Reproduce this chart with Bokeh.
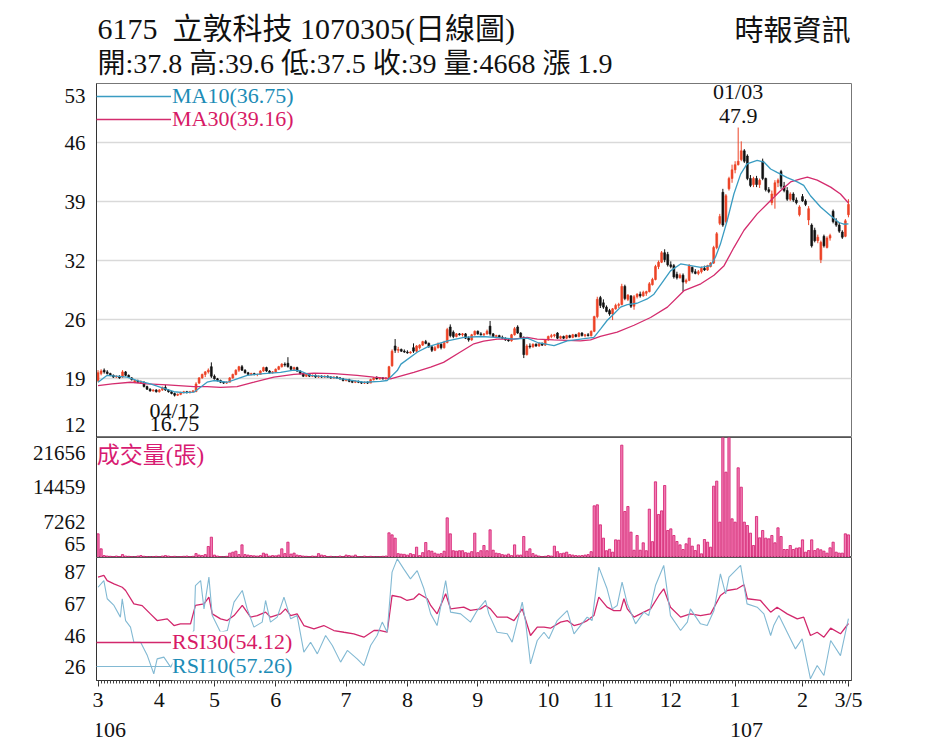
from bokeh.plotting import figure
from bokeh.models import (ColumnDataSource, Range1d, FixedTicker, Label, Legend,
                          LegendItem, PrintfTickFormatter, BoxAnnotation)
from bokeh.layouts import column
from bokeh.embed import file_html
from bokeh.resources import INLINE
from bokeh.core.properties import value

# ---------------- data ----------------
opens = [
18.6,19.4,19.8,19.6,19.4,19.2,19.0,19.1,19.0,19.6,
19.2,18.9,18.4,18.5,18.3,18.4,17.9,17.6,17.4,17.5,
17.3,17.5,17.8,17.5,17.3,17.1,16.9,17.0,17.2,17.3,
17.2,17.3,17.3,18.3,18.9,19.3,19.6,20.2,19.1,18.8,
18.6,18.4,18.3,18.4,18.9,19.3,19.8,20.2,19.8,19.5,
19.3,19.4,19.3,19.3,19.7,20.1,19.7,19.5,19.6,19.9,
20.2,20.5,20.6,20.2,19.9,20.1,19.7,19.4,19.1,19.3,
19.1,19.2,19.0,19.1,19.0,19.1,19.0,18.9,19.0,18.9,
18.8,18.6,18.7,18.5,18.4,18.5,18.4,18.3,18.4,18.3,
18.7,18.9,18.8,18.9,18.8,18.9,20.3,22.6,22.1,22.2,
22.0,21.9,21.8,22.4,22.0,22.4,22.7,23.1,22.9,22.5,
22.1,22.4,22.8,22.4,23.0,24.8,24.2,23.7,24.0,23.9,
24.0,23.5,23.3,23.9,24.3,24.0,23.9,24.0,24.9,24.0,
23.7,23.8,23.6,23.5,23.3,23.2,23.9,24.8,24.1,23.6,
21.6,22.6,22.5,22.8,22.6,22.9,22.7,23.3,23.7,23.8,
24.1,23.5,23.7,23.5,23.8,23.6,23.9,23.7,24.1,23.8,
23.9,23.8,24.3,26.0,28.2,27.6,27.1,26.7,26.3,26.9,
27.3,27.4,29.5,28.0,28.4,27.2,28.3,28.6,28.4,28.7,
28.9,29.7,30.3,31.8,32.3,33.4,33.2,32.0,31.9,30.9,
30.5,30.8,30.0,30.2,31.7,31.2,31.0,31.2,31.6,31.4,
31.8,32.2,34.0,36.8,40.4,37.0,40.8,42.0,43.0,43.6,
44.2,45.2,44.6,42.0,41.3,42.0,41.3,44.0,42.0,40.7,
39.2,40.0,41.5,42.8,41.1,40.6,39.6,40.2,39.5,37.8,
39.9,39.4,37.2,36.6,36.0,34.8,32.6,35.3,34.0,35.1,
38.2,37.0,36.6,35.8,35.3,37.8]

highs = [
19.8,19.9,20.0,19.8,19.5,19.3,19.2,19.2,19.8,19.7,
19.3,19.0,18.7,18.7,18.6,18.5,18.0,17.7,17.6,17.6,
17.6,17.9,18.1,17.6,17.4,17.2,17.1,17.3,17.4,17.4,
17.4,17.5,18.4,19.0,19.4,19.7,20.0,20.7,19.3,18.9,
18.7,18.5,18.5,19.0,19.4,19.9,20.3,20.4,19.9,19.6,
19.5,19.5,19.4,19.8,20.2,20.2,19.8,19.7,20.0,20.3,
20.6,20.7,21.3,20.3,20.2,20.2,19.8,19.5,19.4,19.4,
19.3,19.3,19.2,19.2,19.2,19.2,19.1,19.1,19.1,19.0,
18.9,18.8,18.8,18.6,18.6,18.6,18.5,18.5,18.5,18.8,
19.0,19.1,19.0,19.0,19.0,20.3,22.2,23.4,22.5,22.3,
22.2,22.1,22.0,22.9,22.7,22.8,23.2,23.3,23.0,22.6,
22.6,23.0,22.9,23.2,24.7,25.1,24.4,24.1,24.1,24.1,
24.1,23.7,24.0,24.4,24.4,24.2,24.1,24.5,25.5,24.1,
23.9,23.9,23.8,23.6,23.5,24.0,24.8,25.0,24.2,23.7,
22.8,22.9,22.9,22.9,23.0,23.0,23.4,23.8,24.0,24.0,
24.2,23.8,23.8,23.9,23.9,24.0,24.0,24.2,24.2,24.0,
24.1,24.4,26.1,28.3,28.4,28.0,27.3,26.9,27.0,27.5,
27.6,29.8,29.7,28.6,28.5,28.5,28.7,28.9,29.0,29.0,
30.0,30.5,32.0,32.5,33.6,33.8,33.5,32.4,32.1,31.2,
31.0,31.0,30.4,32.1,31.8,31.5,31.4,31.8,31.9,32.0,
32.3,34.2,35.8,37.9,40.8,40.2,42.2,43.6,44.0,47.9,
46.3,45.4,44.8,42.4,42.2,42.3,42.0,44.3,42.1,41.0,
40.6,41.8,42.0,43.0,41.6,41.0,40.4,40.4,39.8,38.9,
40.2,39.6,38.8,36.8,36.3,35.5,34.8,35.5,35.3,35.6,
38.4,37.4,36.9,36.0,37.3,39.6]

lows = [
18.4,19.2,19.4,19.3,19.1,18.9,18.9,18.8,18.9,19.1,
18.9,18.6,18.3,18.3,18.2,17.8,17.5,17.3,17.3,17.2,
17.2,17.4,17.4,17.2,17.0,16.75,16.8,16.9,17.1,17.1,
17.1,17.2,17.3,18.2,18.8,19.0,19.4,18.9,18.7,18.5,
18.3,18.2,18.2,18.4,18.8,19.2,19.6,19.7,19.4,19.2,
19.2,19.2,19.1,19.3,19.6,19.6,19.4,19.4,19.5,19.8,
20.1,20.2,20.1,19.8,19.7,19.6,19.3,19.0,19.0,19.0,
19.0,18.9,18.9,18.9,18.9,18.9,18.8,18.8,18.8,18.7,
18.5,18.5,18.4,18.3,18.3,18.3,18.2,18.2,18.2,18.3,
18.6,18.7,18.7,18.7,18.7,18.9,20.2,21.8,21.8,21.9,
21.8,21.7,21.7,21.8,21.9,22.2,22.6,22.8,22.4,21.9,
22.0,22.3,22.2,22.3,22.9,23.6,23.5,23.6,23.8,23.7,
23.4,23.1,23.2,23.8,23.9,23.8,23.7,23.9,23.8,23.6,
23.5,23.5,23.4,23.2,23.1,23.1,23.8,24.0,23.5,21.2,
21.5,22.3,22.4,22.5,22.5,22.6,22.6,23.2,23.5,23.6,
23.4,23.4,23.4,23.4,23.5,23.5,23.6,23.6,23.7,23.6,
23.7,23.7,24.2,25.8,27.0,26.9,26.5,26.1,25.6,26.8,
27.0,27.3,27.9,27.8,27.0,26.8,28.1,28.2,28.3,28.4,
28.8,29.6,30.2,31.5,32.2,32.3,31.8,31.6,30.4,30.3,
30.4,28.9,29.8,30.1,31.0,30.9,30.8,31.0,31.3,31.3,
31.7,32.1,33.8,36.6,36.4,36.8,40.6,41.5,42.6,43.5,
44.0,43.8,41.8,41.0,41.0,41.0,40.9,41.8,40.5,40.3,
38.9,38.5,41.0,40.8,40.4,39.4,39.4,39.3,39.0,37.6,
39.3,38.8,36.6,34.0,34.6,34.5,32.2,34.0,33.9,34.8,
36.8,36.4,35.7,35.0,35.2,37.5]

closes = [
19.5,19.7,19.6,19.4,19.2,19.0,19.1,18.9,19.6,19.2,
19.0,18.7,18.6,18.4,18.5,17.9,17.6,17.4,17.5,17.3,
17.5,17.8,17.5,17.3,17.1,16.9,17.0,17.2,17.3,17.2,
17.3,17.4,18.2,18.9,19.3,19.6,19.8,19.1,18.8,18.6,
18.4,18.3,18.4,18.9,19.3,19.8,20.2,19.8,19.5,19.3,
19.4,19.3,19.3,19.7,20.1,19.7,19.5,19.6,19.9,20.2,
20.5,20.4,20.2,19.9,20.1,19.7,19.4,19.1,19.3,19.1,
19.2,19.0,19.1,19.0,19.1,19.0,18.9,19.0,18.9,18.8,
18.6,18.7,18.5,18.4,18.5,18.4,18.3,18.4,18.3,18.7,
18.9,18.8,18.9,18.8,18.9,20.2,22.0,22.1,22.2,22.0,
21.9,21.8,21.9,22.0,22.6,22.7,23.1,22.9,22.5,22.1,
22.4,22.8,22.4,23.0,24.5,23.8,23.7,24.0,23.9,24.0,
23.5,23.3,23.9,24.3,24.0,23.9,24.0,24.3,24.0,23.7,
23.8,23.6,23.5,23.3,23.2,23.9,24.6,24.1,23.6,21.6,
22.6,22.5,22.8,22.6,22.9,22.7,23.3,23.7,23.8,23.9,
23.5,23.7,23.5,23.8,23.6,23.9,23.7,24.1,23.8,23.9,
23.8,24.3,26.0,28.0,27.3,27.1,26.6,26.3,26.9,27.3,
27.4,29.5,28.1,28.5,27.2,28.3,28.6,28.4,28.8,28.9,
29.8,30.3,31.8,32.3,33.4,32.6,32.0,31.8,30.6,30.5,
30.8,30.0,30.2,31.9,31.2,31.0,31.2,31.6,31.4,31.9,
32.2,34.0,35.6,37.6,36.6,40.0,42.0,43.0,43.6,44.0,
45.2,44.0,42.0,41.2,42.0,41.3,41.8,42.0,40.7,40.5,
40.2,41.5,41.8,41.1,40.6,39.6,40.2,39.5,39.2,38.7,
39.4,39.0,38.5,34.2,34.8,35.2,34.6,34.2,35.1,35.4,
37.0,36.6,35.9,35.2,37.1,39.0]

volumes = [
4880,1790,400,300,250,200,300,200,600,300,
250,200,150,300,400,250,200,150,200,250,
150,300,400,300,200,250,150,200,250,300,
200,250,800,500,400,600,2270,4190,500,300,
200,150,250,900,1100,1300,600,2610,600,500,
400,350,300,400,900,700,300,400,350,500,
1790,800,3160,700,900,500,400,300,250,200,
300,250,800,500,400,200,250,150,200,300,
200,500,400,300,500,200,150,300,200,250,
200,150,200,250,300,5090,4670,3990,800,700,
650,500,800,600,2130,400,1000,3090,1400,1300,
900,700,800,1300,8180,4880,1400,1300,1400,1400,
1000,900,1200,5020,1000,1400,2475,1400,5710,1500,
900,800,600,500,700,400,2610,500,500,4330,
1300,1790,800,500,300,200,250,400,300,2340,
1200,800,900,1100,600,500,400,350,400,500,
600,1200,10660,10870,6740,3990,1400,1700,1100,3640,
3570,23170,9490,10520,5230,1500,4540,1500,3030,1400,
9970,3270,15610,8870,9620,14850,5570,5910,4540,3300,
2610,1650,2820,3990,2340,1440,2610,760,3710,3160,
2130,14710,15750,7290,26000,17600,26000,7980,7290,18500,
14500,7290,6600,5020,2475,8460,4060,5570,3990,3850,
4540,3030,6120,4330,1650,1650,2475,1650,1925,2000,
3640,1100,1440,3640,1440,1790,1580,1310,900,2000,
3160,1100,900,900,4880,4668]

ma10_x = [0,3,9.5,12.8,17.1,21.5,24.8,28,31.3,35.6,37.8,42.2,45.4,48.7,54.1,59.6,63.9,66.1,
          69.4,75.9,81.3,86.8,92.2,94.4,97.7,98.9,104.3,107.6,114.1,119.5,125,129.9,135.8,
          140.2,143.5,148.9,153.2,157.6,161.9,164.1,166.2,168.4,170.6,172.8,176,179.3,181.5,
          184.7,186.9,190.2,193.5,196.8,200,201.6,203.2,205.4,207.6,209.8,211.9,215.2,217.4,
          219.6,221.7,225,228.3,230.4,232.6,235.9,239.1,241.9,243.5,245]
ma10_y = [18.4,19.2,19.0,18.6,18.2,17.7,17.3,17.2,17.25,18.4,18.6,18.4,18.8,19.2,19.4,19.55,
          19.8,19.7,19.2,19.0,18.7,18.4,18.5,18.6,19.75,20.5,21.9,22.5,23.2,23.6,23.7,23.6,
          23.4,23.5,23.0,22.65,23.2,23.4,23.6,24.59,25.55,26.3,27.1,27.4,27.55,28.05,28.6,
          30.2,31.3,32.1,31.9,31.7,31.9,32.9,34.4,37.1,40.2,42.5,43.7,44.1,43.9,43.1,42.7,
          42.1,41.6,41.2,40.0,38.7,37.7,36.9,36.7,36.75]

ma30_x = [0,4.6,10.6,16,22.6,31.3,35.6,40,45.4,50.9,57.4,63.9,70.5,77,84.6,90,94.4,95.5,
          103.1,108.6,112.8,118.3,122.7,125.9,130.3,135.7,140.1,143.4,148.8,157.5,160.8,164,
          169.5,175,180.4,185.9,191.3,196.8,201.1,204.4,207.6,210.9,215.2,219.6,222.9,226.1,
          229.4,231.6,234.8,239.2,242.4,245]
ma30_y = [18.0,18.2,18.4,18.2,18.1,17.9,17.9,17.8,17.9,18.4,19.0,19.3,19.45,19.4,19.2,19.0,
          18.85,18.8,19.55,20.15,20.7,21.9,22.85,23.15,23.4,23.4,23.6,23.4,23.3,23.2,23.3,
          23.7,24.2,25.0,25.9,27.1,29.0,29.8,30.8,31.9,34.0,36.0,37.9,39.45,40.6,41.6,41.95,
          42.15,41.8,41.0,40.2,39.16]

rsi30_x = [0,1.9,3,5.2,7.9,9,11.7,14.4,17.1,19.3,22.6,24.8,26.9,30.2,31.8,34.6,36.2,37.3,40,
           42.2,44.4,47.1,49.8,52,54.7,56.3,59.6,61.2,62.9,65,67.2,70.5,73.7,77,80.3,83.5,86.8,
           90.1,92.2,94.4,96,98.8,100.9,103.1,104.8,107.5,108.6,110.7,113.5,115.1,119.4,121.6,
           124.9,126.5,128.1,130.3,133.6,135.8,138.5,141.2,143.4,145.6,147.7,151,153.2,155.4,
           157.5,159.7,161.9,163.5,166.2,168.4,170.6,171.7,172.8,175,178.2,180.4,183.1,184.7,
           186.9,190.2,193.4,196.7,200,203.2,205.4,208.7,210.9,212,216.3,219.6,221.7,225,228.3,
           230.4,232.6,234.8,237,239.2,242.4,245]
rsi30_y = [83.9,85.0,81.7,79.6,77.4,75.3,66.7,65.6,60.3,56.0,57.1,52.8,53.9,53.9,65.7,66.7,71.0,
           60.3,57.1,56.0,59.2,65.7,58.2,59.2,61.4,58.2,60.3,63.5,59.2,60.3,52.8,50.7,52.8,49.6,
           48.5,47.5,45.3,49.6,49.6,48.5,72.1,71.0,68.9,70.0,73.2,70.0,65.7,60.3,73.2,63.5,64.6,
           62.5,63.5,65.7,63.5,58.2,58.2,56.0,63.5,46.4,51.8,51.8,51.1,55.0,56.0,52.8,53.9,56.0,
           59.2,71.0,64.6,62.4,62.4,70.0,63.5,58.2,61.4,63.5,72.1,76.4,64.6,58.2,60.3,59.2,60.3,
           72.1,75.3,76.4,79.0,70.0,68.9,61.4,64.6,60.3,57.1,58.2,46.4,48.5,45.3,51.1,47.5,54.12]

rsi10_x = [0,1.9,3,5.2,7.3,7.9,9,10.6,11.7,13.9,16.1,18.2,19.3,21.5,23.7,25.9,28,30.2,31.3,31.8,
           33.5,34.6,36.2,37.3,40,42.2,44.4,47.1,48.7,50.9,53.6,54.7,56.3,58.5,60.7,62.9,65,67.2,
           69.4,71.6,74.3,76.5,79.2,81.4,84.6,86.8,89,91.1,92.8,94.4,96,97.7,99.8,102,104.2,106.4,
           108.6,110.7,113.5,115.1,118.4,121.6,123.8,126.5,127.6,130.3,133.6,135.2,138.5,139.6,
           141.2,143.4,145.6,147.2,149.9,153.2,155.4,157.5,159.7,161.3,163.5,166.2,167.9,169.5,
           171.1,172.8,175.5,178.2,179.8,182,184.7,186.9,190.2,192.4,193.4,196.7,198.9,201.1,
           203.2,204.9,206,209.8,211.9,215.2,217.4,219.6,220.6,222.3,225,227.7,229.9,232.6,
           234.8,237,239.2,242.4,245]
rsi10_y = [77.4,81.7,70.0,65.7,58.2,70.0,56.0,51.8,42.1,42.1,33.5,21.8,31.4,32.5,26.1,33.5,42.1,
           46.4,49.6,78.5,81.7,63.5,83.9,59.2,48.5,49.6,67.8,75.3,63.5,51.8,55.0,68.9,55.0,58.2,
           71.0,57.1,59.2,35.7,42.1,34.6,46.4,40.0,29.3,36.8,31.4,27.1,40.0,46.4,55.0,48.5,87.1,
           95.6,89.2,82.8,88.1,76.4,60.3,52.8,81.7,61.4,60.3,55.0,62.4,68.9,60.3,48.5,47.5,42.1,
           67.8,55.0,28.2,43.2,48.5,44.3,56.0,62.4,47.5,52.8,58.2,56.0,90.3,76.4,63.5,65.7,80.7,
           66.7,53.9,61.4,59.2,78.5,91.4,59.2,49.6,55.0,63.5,53.9,52.8,62.4,86.0,73.2,83.9,91.4,
           66.7,64.6,60.3,46.4,52.8,59.2,48.5,37.8,44.3,18.6,27.1,20.7,43.2,33.5,57.26]

price_ticks = [12, 12 + 41/6, 12 + 82/6, 12 + 123/6, 12 + 164/6, 12 + 205/6, 53]
price_tick_labels = ["12", "19", "26", "32", "39", "46", "53"]
vol_ticks = [65, 7262, 14459, 21656]
rsi_ticks = [26, 46.33, 66.67, 87]
month_idx = [0, 20, 38, 58, 81, 101, 124, 147, 165, 187, 208, 230, 245]
month_labels = ["3", "4", "5", "6", "7", "8", "9", "10", "11", "12", "1", "2", "3/5"]
year_idx = [0, 208]
year_labels = ["106", "107"]

hi_idx, hi_date = 209, "01/03"
lo_idx, lo_date = 25, "04/12"
ma10_last, ma30_last = 36.75, 39.16
rsi30_last, rsi10_last = 54.12, 57.26

title1 = "6175\u00a0\u00a0立敦科技 1070305(日線圖)"
title2 = "開:37.8 高:39.6 低:37.5 收:39 量:4668 漲 1.9"
source_txt = "時報資訊"

# ---------------- styling / layout ----------------
SERIF = "'Liberation Serif', 'Noto Sans CJK TC', serif"
UP, DOWN = "#ec4326", "#111111"
C_MA10, C_MA30 = "#3a9cc2", "#d42c6e"
T_BLUE, T_MAG = "#1d8cb6", "#d71a66"

N = len(closes)
days = list(range(N))
LB, RB, FW = 96, 20, 755          # left border, right border, frame width (px)
W = LB + FW + RB
xr = Range1d(-0.5, N)

PRICE_H, VOL_H, RSI_H, RSI_AX, FOOT_H = 354, 120, 123, 34, 34
price_rng = Range1d(price_ticks[0], price_ticks[-1])
vol_rng = Range1d(0, 24750)
rsi_rng = Range1d(17.5, 96.5)


def px_units(rng, h):
    return (rng.end - rng.start) / h


def style_yaxis(f):
    ax = f.yaxis[0]
    ax.axis_line_color = "#333333"
    ax.major_tick_line_color = None
    ax.minor_tick_line_color = None
    ax.major_label_text_font = SERIF
    ax.major_label_text_font_size = "21px"
    ax.major_label_text_color = "#111111"
    ax.major_label_standoff = 5


def key_legend(f, renderer, text, color, y_from_bottom):
    h = 24
    f.add_layout(Legend(items=[LegendItem(label=value(text), renderers=[renderer])],
                        location=(0, y_from_bottom - h / 2), glyph_width=75, glyph_height=h,
                        label_height=h, label_standoff=1, padding=0, margin=0, spacing=0,
                        border_line_color=None, background_fill_alpha=0,
                        label_text_font=SERIF, label_text_font_size="22px",
                        label_text_color=color))


# ---------------- header ----------------
hdr = figure(width=W, height=78, x_range=Range1d(LB, LB + FW), y_range=Range1d(0, 78),
             x_axis_location=None, y_axis_location=None, toolbar_location=None,
             output_backend="svg", min_border=0, min_border_left=LB, min_border_right=RB,
             outline_line_color=None)
hdr.grid.visible = False
hdr.add_layout(Label(x=97, y=50, text=title1, text_font=SERIF, text_font_size="30px",
                     text_baseline="middle", text_color="#111111"))
hdr.add_layout(Label(x=97, y=15, text=title2, text_font=SERIF, text_font_size="28px",
                     text_baseline="middle", text_color="#111111"))
hdr.add_layout(Label(x=850, y=48, text=source_txt, text_font=SERIF, text_font_size="29px",
                     text_baseline="middle", text_align="right", text_color="#111111"))

# ---------------- price panel ----------------
p = figure(width=W, height=PRICE_H + 5, x_range=xr, y_range=price_rng, output_backend="svg",
           toolbar_location=None, x_axis_location=None, min_border_left=LB,
           min_border_right=RB, min_border_top=5, min_border_bottom=0,
           outline_line_color="#777777")
p.xgrid.visible = False
pu = px_units(price_rng, PRICE_H)
# edge labels are nudged inside the frame (as in the reference)
price_label_pos = [price_ticks[0] + 13 * pu] + price_ticks[1:-1] + [price_ticks[-1] - 12 * pu]
p.yaxis.ticker = FixedTicker(ticks=price_label_pos)
p.yaxis.major_label_overrides = dict(zip(price_label_pos, price_tick_labels))
style_yaxis(p)
p.ygrid.ticker = FixedTicker(ticks=price_ticks[1:])
p.ygrid.grid_line_color = "#d9d9d9"
p.ygrid.grid_line_width = 1.5

src = ColumnDataSource(dict(x=days, o=opens, h=highs, l=lows, c=closes,
                            col=[UP if c >= o else DOWN for o, c in zip(opens, closes)]))
p.segment(x0="x", y0="l", x1="x", y1="h", line_color="col", line_width=1, source=src)
p.vbar(x="x", top="o", bottom="c", width=0.62, fill_color="col", line_color="col",
       line_width=0.6, source=src)
r_ma30 = p.line(ma30_x, ma30_y, line_color=C_MA30, line_width=1.3)
r_ma10 = p.line(ma10_x, ma10_y, line_color=C_MA10, line_width=1.3)
key_legend(p, r_ma10, f"MA10({ma10_last:.2f})", T_BLUE, 340)
key_legend(p, r_ma30, f"MA30({ma30_last:.2f})", T_MAG, 317)

hi_val = highs[hi_idx]
lo_val = lows[lo_idx]
p.add_layout(Label(x=hi_idx, y=hi_val, text=f"{hi_val}", text_align="center",
                   text_baseline="bottom", y_offset=5, text_font=SERIF, text_font_size="22px",
                   text_color="#111111"))
p.add_layout(Label(x=hi_idx, y=hi_val, text=hi_date, text_align="center",
                   text_baseline="bottom", y_offset=24, text_font=SERIF, text_font_size="22px",
                   text_color="#111111"))
p.add_layout(Label(x=lo_idx, y=lo_val, text=lo_date, text_align="center",
                   text_baseline="top", y_offset=-2, text_font=SERIF, text_font_size="22px",
                   text_color="#111111"))
p.add_layout(Label(x=lo_idx, y=lo_val, text=f"{lo_val}", text_align="center",
                   text_baseline="top", y_offset=-21, text_font=SERIF, text_font_size="22px",
                   text_color="#111111"))

# ---------------- volume panel ----------------
pv = figure(width=W, height=VOL_H, x_range=xr, y_range=vol_rng, output_backend="svg",
            toolbar_location=None, x_axis_location=None, min_border_left=LB,
            min_border_right=RB, min_border_top=0, min_border_bottom=0,
            outline_line_color="#555555")
pv.grid.visible = False
vu = px_units(vol_rng, VOL_H)
vol_label_pos = [vol_ticks[0] + 13 * vu] + vol_ticks[1:]
pv.yaxis.ticker = FixedTicker(ticks=vol_label_pos)
pv.yaxis.formatter = PrintfTickFormatter(format="%d")
pv.yaxis.major_label_overrides = {vol_label_pos[0]: str(vol_ticks[0])}
style_yaxis(pv)
pv.vbar(x=days, top=volumes, width=0.72, fill_color="#f27fb6", line_color="#d3186c",
        line_width=0.8)
pv.add_layout(Label(x=-0.4, y=(VOL_H - 18) * vu, text="成交量(張)", text_font=SERIF,
                    text_font_size="23px", text_baseline="middle", text_color="#d81b72"))

# ---------------- RSI panel ----------------
pr = figure(width=W, height=RSI_H + RSI_AX, x_range=xr, y_range=rsi_rng, output_backend="svg",
            toolbar_location=None, min_border_left=LB, min_border_right=RB,
            min_border_top=0, min_border_bottom=RSI_AX, outline_line_color="#555555")
pr.grid.visible = False
pr.yaxis.ticker = FixedTicker(ticks=rsi_ticks)
pr.yaxis.formatter = PrintfTickFormatter(format="%.0f")
style_yaxis(pr)
xa = pr.xaxis[0]
xa.ticker = FixedTicker(ticks=month_idx, minor_ticks=days)
xa.major_label_overrides = {i: l for i, l in zip(month_idx, month_labels)}
xa.axis_line_color = "#333333"
xa.major_tick_out = 6
xa.major_tick_in = 0
xa.minor_tick_out = 3
xa.minor_tick_in = 0
xa.major_tick_line_color = "#333333"
xa.minor_tick_line_color = "#444444"
xa.major_label_standoff = 0
xa.major_label_text_font = SERIF
xa.major_label_text_font_size = "22px"
xa.major_label_text_color = "#111111"

r_rsi30 = pr.line(rsi30_x, rsi30_y, line_color="#d2276c", line_width=1.3)
r_rsi10 = pr.line(rsi10_x, rsi10_y, line_color="#82b9d3", line_width=1.1)
ru = px_units(rsi_rng, RSI_H)
# white patch behind the legend texts, like the reference
pr.add_layout(BoxAnnotation(left=24.3, right=64.6, bottom=rsi_rng.start,
                            top=rsi_rng.start + 49 * ru, fill_color="white", fill_alpha=1,
                            line_color=None))
key_legend(pr, r_rsi30, f"RSI30({rsi30_last:.2f})", T_MAG, 37)
key_legend(pr, r_rsi10, f"RSI10({rsi10_last:.2f})", T_BLUE, 13)

# ---------------- footer (year row) ----------------
ft = figure(width=W, height=FOOT_H, x_range=xr, y_range=Range1d(0, FOOT_H),
            output_backend="svg", toolbar_location=None, x_axis_location=None,
            y_axis_location=None, min_border_left=LB, min_border_right=RB, min_border_top=0,
            min_border_bottom=0, outline_line_color=None)
ft.grid.visible = False
ft.text(x=year_idx, y=[FOOT_H - 15] * len(year_idx), text=year_labels, text_align="left",
        text_baseline="middle", x_offset=-5, text_font=value(SERIF), text_font_size="22px",
        text_color="#111111")

layout = column(hdr, p, pv, pr, ft)
open("out.html", "w").write(file_html(layout, INLINE, title="6175"))
